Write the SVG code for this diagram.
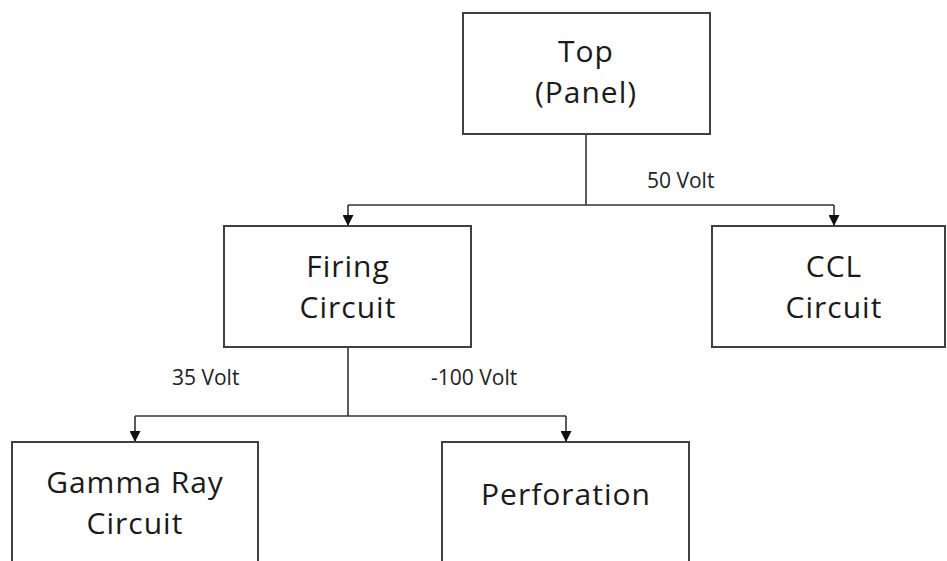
<svg xmlns="http://www.w3.org/2000/svg" width="947" height="561" viewBox="0 0 947 561">
<style>
.box{fill:#fff;stroke:#404040;stroke-width:2}
.t{font-family:"Open Sans","Noto Sans",sans-serif;font-size:30px;letter-spacing:1px;fill:#1a1a1a;text-anchor:middle}
.l{font-family:"Open Sans","Noto Sans",sans-serif;font-size:21px;fill:#222}
.c{fill:none;stroke:#333;stroke-width:1.6}
</style>
<defs>
<marker id="ah" viewBox="0 0 10 10" refX="10" refY="5" markerWidth="11" markerHeight="11" markerUnits="userSpaceOnUse" orient="auto">
<path d="M0,0 L10,5 L0,10 z" fill="#111"/>
</marker>
</defs>
<rect width="947" height="561" fill="#fff"/>
<g id="connectors">
<path class="c" d="M586,134 V205"/>
<path class="c" d="M348,205 H834"/>
<path class="c" d="M348,205 V226" marker-end="url(#ah)"/>
<path class="c" d="M834,205 V226" marker-end="url(#ah)"/>
<path class="c" d="M348,347 V416"/>
<path class="c" d="M135,416 H566"/>
<path class="c" d="M135,416 V442" marker-end="url(#ah)"/>
<path class="c" d="M566,416 V442" marker-end="url(#ah)"/>
<text class="l" x="647" y="188">50 Volt</text>
<text class="l" x="172" y="385">35 Volt</text>
<text class="l" x="431" y="385">-100 Volt</text>
</g>
<g id="top">
<rect class="box" x="463" y="13" width="247" height="121"/>
<text class="t"><tspan x="586" y="62">Top</tspan><tspan x="586" y="103">(Panel)</tspan></text>
</g>
<g id="firing">
<rect class="box" x="224" y="226" width="247" height="121"/>
<text class="t"><tspan x="348" y="277">Firing</tspan><tspan x="348" y="318">Circuit</tspan></text>
</g>
<g id="ccl">
<rect class="box" x="712" y="226" width="233" height="121"/>
<text class="t"><tspan x="834" y="277">CCL</tspan><tspan x="834" y="318">Circuit</tspan></text>
</g>
<g id="gamma">
<rect class="box" x="12" y="442" width="246" height="130"/>
<text class="t"><tspan x="135" y="493">Gamma Ray</tspan><tspan x="135" y="534">Circuit</tspan></text>
</g>
<g id="perforation">
<rect class="box" x="442" y="442" width="247" height="130"/>
<text class="t" x="566" y="505">Perforation</text>
</g>
</svg>
